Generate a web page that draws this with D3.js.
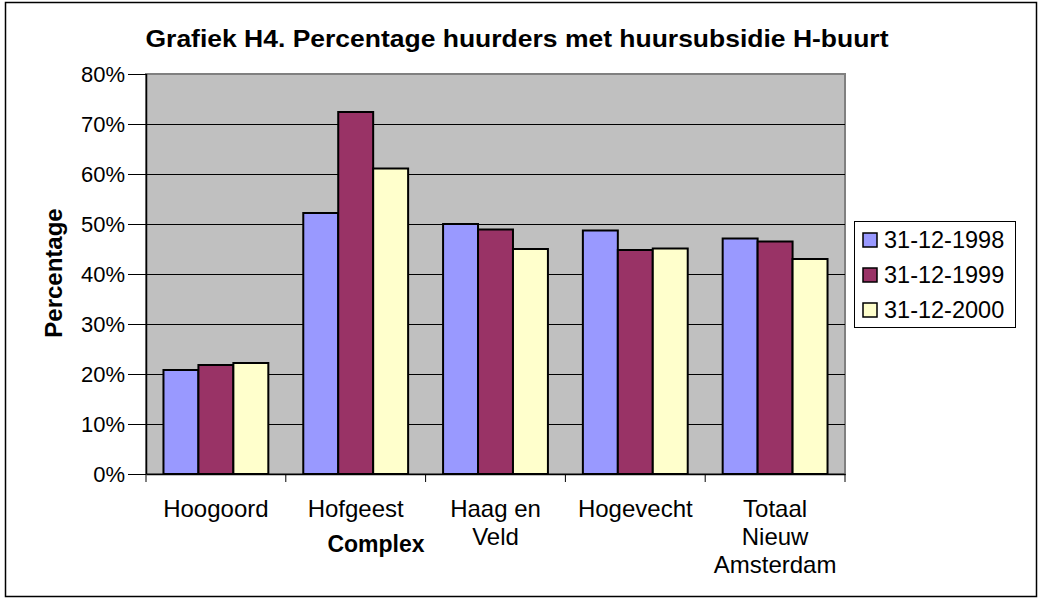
<!DOCTYPE html>
<html>
<head>
<meta charset="utf-8">
<script src="https://cdn.jsdelivr.net/npm/d3@7"></script>
<style>
  body { margin: 0; background: #fff; }
  text { font-family: "Liberation Sans", Arial, sans-serif; }
</style>
</head>
<body>
<div id="container"></div>
<script>
//---------- DATA ----------//
const categories = [["Hoogoord"], ["Hofgeest"], ["Haag en", "Veld"], ["Hogevecht"], ["Totaal", "Nieuw", "Amsterdam"]];
const seriesNames = ["31-12-1998", "31-12-1999", "31-12-2000"];
const values1998 = [20.8, 52.2, 50.0, 48.7, 47.1];
const values1999 = [21.8, 72.4, 48.9, 44.8, 46.5];
const values2000 = [22.2, 61.1, 45.0, 45.1, 43.0];
const yTicks = [0, 10, 20, 30, 40, 50, 60, 70, 80];
const colors = ["#9999FF", "#993366", "#FFFFCC"];

const seriesValues = [values1998, values1999, values2000];

//---------- SVG ----------//
const width = 1039;
const height = 599;
const plot = {left: 146, right: 845, top: 74, bottom: 474};

const svg = d3.select("div#container")
    .append("svg")
    .attr("width", width)
    .attr("height", height);

// outer chart frame
svg.append("rect")
    .attr("x", 5.5).attr("y", 2.5)
    .attr("width", 1031).attr("height", 594)
    .attr("fill", "#fff")
    .attr("stroke", "#000")
    .attr("stroke-width", 1.5);

//---------- SCALES ----------//
const catKeys = categories.map((d, i) => i);
const x0 = d3.scaleBand().domain(catKeys).range([plot.left, plot.right]);
const x1 = d3.scaleBand().domain(d3.range(seriesNames.length))
    .range([0, x0.bandwidth()]).paddingOuter(0.5);
const y = d3.scaleLinear().domain([0, 80]).range([plot.bottom, plot.top]);

//---------- PLOT AREA ----------//
svg.append("rect")
    .attr("x", plot.left).attr("y", plot.top)
    .attr("width", plot.right - plot.left).attr("height", plot.bottom - plot.top)
    .attr("fill", "#C0C0C0")
    .attr("stroke", "#808080")
    .attr("stroke-width", 2);

// gridlines
svg.append("g")
    .selectAll("line")
    .data(yTicks.filter(t => t > 0 && t < 80))
    .join("line")
    .attr("x1", plot.left).attr("x2", plot.right)
    .attr("y1", d => Math.round(y(d)) + 0.5).attr("y2", d => Math.round(y(d)) + 0.5)
    .attr("stroke", "#000")
    .attr("stroke-width", 1);

//---------- BARS ----------//
const groups = svg.append("g")
    .selectAll("g")
    .data(catKeys)
    .join("g")
    .attr("transform", d => `translate(${x0(d)},0)`);

groups.selectAll("rect")
    .data(ci => seriesValues.map((vals, si) => ({si: si, v: vals[ci]})))
    .join("rect")
    .attr("x", d => x1(d.si))
    .attr("y", d => y(d.v))
    .attr("width", x1.bandwidth())
    .attr("height", d => y(0) - y(d.v))
    .attr("fill", d => colors[d.si])
    .attr("stroke", "#000")
    .attr("stroke-width", 2);

//---------- AXES ----------//
const yAxis = d3.axisLeft(y)
    .tickValues(yTicks)
    .tickFormat(d => d + "%")
    .tickSize(18)
    .tickPadding(3);

const gy = svg.append("g")
    .attr("transform", `translate(${plot.left},0)`)
    .call(yAxis);
gy.selectAll("text").attr("font-size", 22).attr("fill", "#000").attr("dy", "0.35em");
gy.selectAll("line").attr("stroke", "#000");
gy.select(".domain").attr("stroke", "#000").attr("stroke-width", 1.5).attr("d", `M0.5,${plot.top}V${plot.bottom}`);

const xAxis = d3.axisBottom(x0)
    .tickSize(0)
    .tickFormat("");
const gx = svg.append("g")
    .attr("transform", `translate(0,${plot.bottom})`)
    .call(xAxis);
gx.select(".domain").attr("stroke", "#000").attr("stroke-width", 1.5);

// tick marks between categories
svg.append("g")
    .selectAll("line")
    .data(catKeys.concat([catKeys.length]))
    .join("line")
    .attr("x1", d => d < catKeys.length ? x0(d) : plot.right)
    .attr("x2", d => d < catKeys.length ? x0(d) : plot.right)
    .attr("y1", plot.bottom).attr("y2", plot.bottom + 8)
    .attr("stroke", "#000");

// category labels
svg.append("g")
    .selectAll("text")
    .data(catKeys)
    .join("text")
    .attr("x", d => x0(d) + x0.bandwidth() / 2)
    .attr("y", 517)
    .attr("text-anchor", "middle")
    .attr("font-size", 24)
    .each(function(d) {
        d3.select(this).selectAll("tspan")
            .data(categories[d])
            .join("tspan")
            .attr("x", x0(d) + x0.bandwidth() / 2)
            .attr("dy", (t, i) => i === 0 ? 0 : 28)
            .text(t => t);
    });

//---------- TITLES ----------//
svg.append("text")
    .attr("x", 517).attr("y", 47)
    .attr("text-anchor", "middle")
    .attr("font-size", 24)
    .attr("font-weight", "bold")
    .attr("textLength", 743)
    .attr("lengthAdjust", "spacingAndGlyphs")
    .text("Grafiek H4. Percentage huurders met huursubsidie H-buurt");

svg.append("text")
    .attr("x", 376).attr("y", 552)
    .attr("text-anchor", "middle")
    .attr("font-size", 23)
    .attr("font-weight", "bold")
    .text("Complex");

svg.append("text")
    .attr("transform", "translate(62,273) rotate(-90)")
    .attr("text-anchor", "middle")
    .attr("font-size", 24)
    .attr("font-weight", "bold")
    .text("Percentage");

//---------- LEGEND ----------//
const legend = svg.append("g");
legend.append("rect")
    .attr("x", 854.5).attr("y", 221.5)
    .attr("width", 161).attr("height", 106)
    .attr("fill", "#fff")
    .attr("stroke", "#000")
    .attr("stroke-width", 1);

const items = legend.selectAll("g.item")
    .data(seriesNames)
    .join("g")
    .attr("class", "item")
    .attr("transform", (d, i) => `translate(0,${240 + i * 35})`);

items.append("rect")
    .attr("x", 863).attr("y", -7)
    .attr("width", 14).attr("height", 14)
    .attr("fill", (d, i) => colors[i])
    .attr("stroke", "#000")
    .attr("stroke-width", 1.5);

items.append("text")
    .attr("x", 884).attr("y", 8)
    .attr("font-size", 23.5)
    .text(d => d);
</script>
</body>
</html>
